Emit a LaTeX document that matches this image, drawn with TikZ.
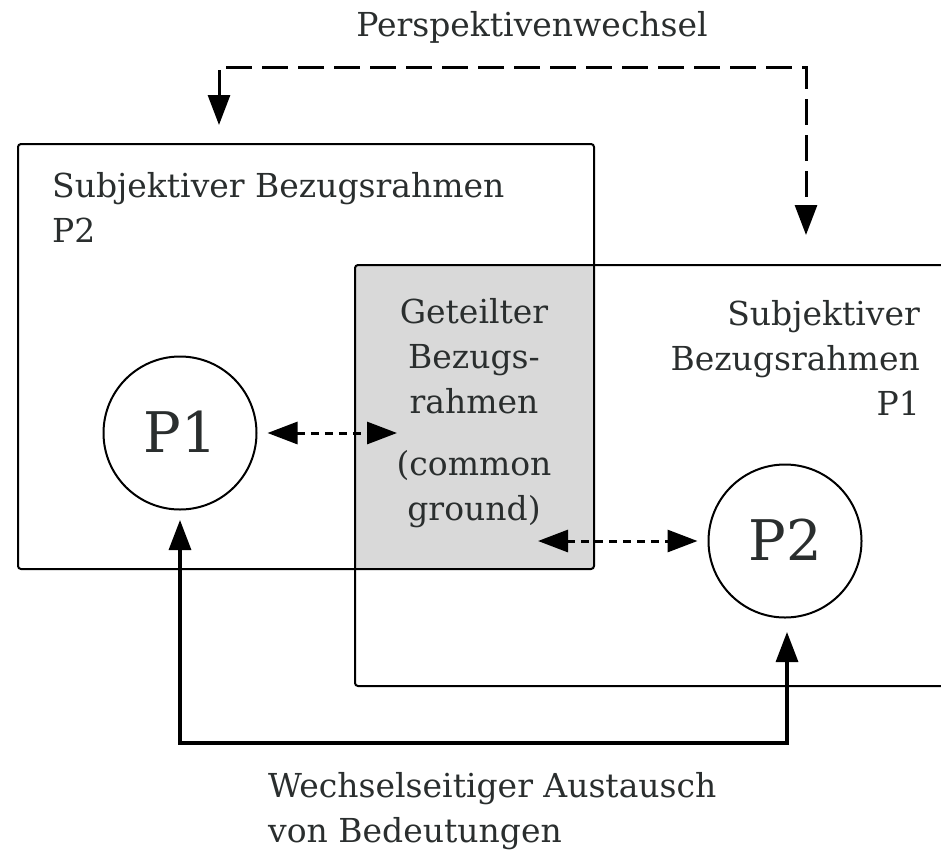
\documentclass[tikz,border=0pt]{standalone}
\usepackage{fontspec}
\setmainfont{DejaVu Serif}
\usetikzlibrary{arrows.meta}
\definecolor{txt}{RGB}{42,46,46}
\definecolor{shared}{RGB}{217,217,217}
\tikzset{
  lbl/.style={font=\fontsize{33}{45}\selectfont, text=txt, inner sep=0pt},
  pname/.style={font=\fontsize{56}{60}\selectfont, text=txt, inner sep=0pt},
  person/.style={circle, draw, line width=2pt, minimum size=153pt, inner sep=0pt},
  frame/.style={line width=2pt},
  longdash/.style={line width=3pt, dash pattern=on 26pt off 10pt},
  shortdash/.style={line width=3pt, dash pattern=on 8pt off 6pt},
  solidconn/.style={line width=3.2pt}
}
\begin{document}
\begin{tikzpicture}[x=1pt,y=-1pt]
\useasboundingbox (0,0) rectangle (941,849);
% shared area
\fill[shared] (355,265) rectangle (594,569);
% left frame
\draw[frame, rounded corners=3pt] (18,144) rectangle (594,569);
% right frame (open to the right)
\draw[frame, rounded corners=3pt] (945,265) -- (355,265) -- (355,686) -- (945,686);
% persons
\node[person] (p1) at (180,433) {};
\node[pname, anchor=base] at (180,452) {P1};
\node[person] (p2) at (785,541) {};
\node[pname, anchor=base] at (785,560) {P2};
% labels (base = baseline of the last line)
\node[lbl, anchor=base] (persp) at (532,36) {Perspektivenwechsel};
\node[lbl, anchor=base west, align=left] (lframe) at (52,242) {Subjektiver Bezugsrahmen\\P2};
\node[lbl, anchor=base east, align=right] (rframe) at (920,415) {Subjektiver\\Bezugsrahmen\\P1};
\node[lbl, anchor=base, align=center] (sharedtxt) at (474,520) {Geteilter\\Bezugs-\\rahmen\\[17pt](common\\ground)};
\node[lbl, anchor=base west, align=left] (bottomtxt) at (268,842) {Wechselseitiger Austausch\\von Bedeutungen};
% connector endpoints
\coordinate (tl) at (219,125);
\coordinate (tr) at (806,235);
\coordinate (bl) at (180,520);
\coordinate (br) at (787,632);
\coordinate (s1) at (397,433);
\coordinate (s2) at (538,541);
% connectors
\draw[longdash, {Triangle[length=30pt,width=22pt]}-{Triangle[length=30pt,width=22pt]}] (tl) |- (512,67) -| (tr);
\draw[solidconn, {Triangle[length=30pt,width=22pt]}-{Triangle[length=30pt,width=22pt]}] (bl) |- (480,743) -| (br);
\draw[shortdash, {Triangle[length=30pt,width=22pt]}-{Triangle[length=30pt,width=22pt]}] ([xshift=10pt]p1.east) -- (s1);
\draw[shortdash, {Triangle[length=30pt,width=22pt]}-{Triangle[length=30pt,width=22pt]}] (s2) -- ([xshift=-10pt]p2.west);
\end{tikzpicture}
\end{document}
